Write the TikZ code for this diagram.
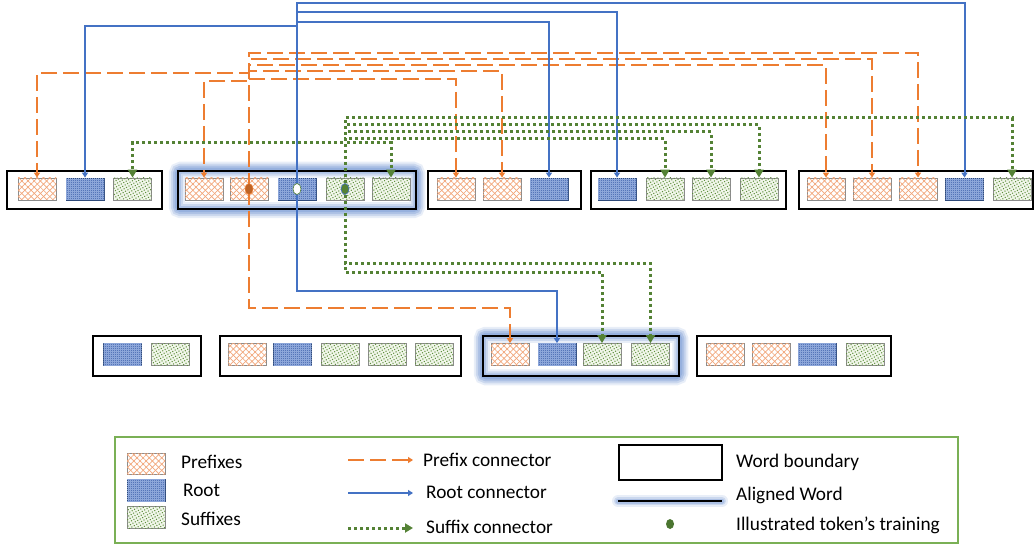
\documentclass[tikz,border=0pt]{standalone}
\usepackage{fontspec}
\setmainfont{Carlito}
\usetikzlibrary{arrows.meta,patterns.meta,backgrounds}

\definecolor{arancio}{HTML}{ED7D31}
\definecolor{blu}{HTML}{4472C4}
\definecolor{verde}{HTML}{548235}
\definecolor{trama}{HTML}{F2A67A}
\definecolor{radice}{HTML}{5575B8}
\definecolor{tramablu}{HTML}{8CA6D9}
\definecolor{bordoradice}{HTML}{2F4A7A}
\definecolor{puntini}{HTML}{5E8F3C}
\definecolor{fondoverde}{HTML}{F1F6EA}
\definecolor{grigiotok}{HTML}{8C8C8C}
\definecolor{alone}{HTML}{7F9FD6}
\definecolor{cornice}{HTML}{7AB055}

\tikzset{
  tok/.style={minimum width=38pt, minimum height=22pt, inner sep=0pt, line width=0.8pt},
  pretok/.style={tok, draw=grigiotok, fill=white,
    postaction={pattern={Lines[angle=45,distance=4.4pt,line width=0.7pt]}, pattern color=trama},
    postaction={pattern={Lines[angle=-45,distance=4.4pt,line width=0.7pt]}, pattern color=trama}},
  roottok/.style={tok, draw=bordoradice, fill=radice,
    postaction={pattern={Hatch[distance=2pt,line width=0.3pt]}, pattern color=tramablu}},
  suftok/.style={tok, draw=grigiotok, fill=fondoverde,
    postaction={pattern={Dots[distance=2.8pt,radius=0.75pt,angle=30]}, pattern color=puntini}},
  wordbox/.style={draw=black, line width=2.5pt, inner sep=0pt, minimum height=38pt},
  prefline/.style={arancio, line width=2pt, dash pattern=on 16pt off 6pt, -{Triangle[width=6pt,length=5pt]}},
  rootline/.style={blu, line width=2pt, -{Triangle[width=6pt,length=5pt]}},
  sufline/.style={verde, line width=3pt, dash pattern=on 3pt off 3pt, -{Triangle[width=9pt,length=8pt]}},
  legtext/.style={anchor=west, inner sep=0pt, font=\fontsize{19.3}{22}\selectfont},
}

\begin{document}
\begin{tikzpicture}[x=1pt, y=-1pt]
  \useasboundingbox (0,0) rectangle (1035,545);

  % Confini delle parole (riga superiore e inferiore)
  \node[wordbox, minimum width=155pt] (s1) at (84.5,190) {};
  \node[wordbox, minimum width=238pt] (s2) at (297,190) {};
  \node[wordbox, minimum width=153pt] (s3) at (504.5,190) {};
  \node[wordbox, minimum width=195pt] (s4) at (688.5,190) {};
  \node[wordbox, minimum width=234pt] (s5) at (916,190) {};
  \node[wordbox, minimum width=108pt, minimum height=40pt] (t1) at (147,356) {};
  \node[wordbox, minimum width=241pt, minimum height=40pt] (t2) at (340.5,356) {};
  \node[wordbox, minimum width=196pt, minimum height=40pt] (t3) at (581,356) {};
  \node[wordbox, minimum width=194pt, minimum height=40pt] (t4) at (794,356) {};

  % Alone delle parole allineate
  \begin{scope}[on background layer]
    \foreach \w/\o in {16/0.18, 12/0.28, 8/0.38, 4/0.5}
      \foreach \b in {s2, t3}
        \draw[alone, line width=\w pt, opacity=\o, rounded corners=4pt] (\b.north west) rectangle (\b.south east);
  \end{scope}

  % Token della riga superiore
  \foreach \n/\st/\x in {s1-1/pretok/37, s1-2/roottok/85, s1-3/suftok/132.5,
      s2-1/pretok/204, s2-2/pretok/249, s2-3/roottok/297, s2-4/suftok/345, s2-5/suftok/391,
      s3-1/pretok/456, s3-2/pretok/502, s3-3/roottok/549,
      s4-1/roottok/617, s4-2/suftok/665, s4-3/suftok/711, s4-4/suftok/759,
      s5-1/pretok/826, s5-2/pretok/872, s5-3/pretok/918, s5-4/roottok/964.5, s5-5/suftok/1012}
    \node[\st] (\n) at (\x,189) {};

  % Token della riga inferiore
  \foreach \n/\st/\x in {t1-1/roottok/122.5, t1-2/suftok/170.5,
      t2-1/pretok/247, t2-2/roottok/292.5, t2-3/suftok/340, t2-4/suftok/387.5, t2-5/suftok/434,
      t3-1/pretok/510, t3-2/roottok/557, t3-3/suftok/602, t3-4/suftok/650.5,
      t4-1/pretok/725, t4-2/pretok/771, t4-3/roottok/817, t4-4/suftok/865}
    \node[\st] (\n) at (\x,354.5) {};

  % Connettori dei prefissi
  \foreach \t/\lev in {s5-3/53, s5-2/59, s5-1/65, s3-2/71, s1-1/73, s3-1/79, s2-1/81}
    \draw[prefline] (s2-2.center) -- (s2-2 |- 0,\lev) -| (\t.north);
  \draw[prefline] (s2-2.center) -- (s2-2 |- 0,308) -| (t3-1.north);

  % Connettori della radice
  \foreach \t/\lev in {s5-4/3, s4-1/12, s3-3/22, s1-2/26}
    \draw[rootline] (s2-3.center) -- (s2-3 |- 0,\lev) -| (\t.north);
  \draw[rootline] (s2-3.center) -- (s2-3 |- 0,291) -| (t3-2.north);

  % Connettori dei suffissi
  \foreach \t/\lev in {s5-5/118, s4-4/125, s4-3/132, s4-2/139, s1-3/143, s2-5/143}
    \draw[sufline] (s2-4.center) -- (s2-4 |- 0,\lev) -| (\t.north);
  \foreach \t/\lev in {t3-4/263, t3-3/272}
    \draw[sufline] (s2-4.center) -- (s2-4 |- 0,\lev) -| (\t.north);

  % Token illustrati
  \filldraw[fill=arancio!80!black, draw=arancio, line width=0.6pt] (s2-2) ellipse [x radius=4pt, y radius=5.5pt];
  \filldraw[fill=white, draw=verde, line width=0.6pt] (s2-3) ellipse [x radius=4pt, y radius=5.5pt];
  \filldraw[fill=verde, draw=blu, line width=0.6pt] (s2-4) ellipse [x radius=4pt, y radius=5.5pt];

  % Legenda
  \draw[cornice, line width=2pt] (115,437) rectangle (958,543);
  \node[pretok, minimum height=21pt] (lgp) at (146,463.5) {};
  \node[roottok] (lgr) at (146,490) {};
  \node[suftok] (lgs) at (146,517) {};
  \node[legtext] (lgpt) at (181,462) {Prefixes};
  \node[legtext] (lgrt) at (183,490) {Root};
  \node[legtext] (lgst) at (181,519) {Suffixes};

  \coordinate (lpa) at (348,460); \coordinate (lpb) at (413,460);
  \coordinate (lra) at (348,493); \coordinate (lrb) at (413,493);
  \coordinate (lsa) at (348,528); \coordinate (lsb) at (413,528);
  \draw[prefline] (lpa) -- (lpb);
  \draw[rootline] (lra) -- (lrb);
  \draw[sufline] (lsa) -- (lsb);
  \node[legtext] (lpt) at (423,460) {Prefix connector};
  \node[legtext] (lrt) at (426,492) {Root connector};
  \node[legtext] (lst) at (426,527) {Suffix connector};

  \node[wordbox, minimum width=103pt, minimum height=35pt] (lgw) at (670.5,462.5) {};
  \coordinate (lwa) at (618,501); \coordinate (lwb) at (722,501);
  \foreach \w/\o in {12/0.18, 8/0.28, 5/0.4}
    \draw[alone, line width=\w pt, opacity=\o, line cap=round] (lwa) -- (lwb);
  \draw[black, line width=2.5pt] (lwa) -- (lwb);
  \fill[verde!90!black] (670,524) ellipse [x radius=4pt, y radius=5pt];
  \node[legtext] (lwt) at (736,462) {Word boundary};
  \node[legtext] (lat) at (736,495) {Aligned Word};
  \node[legtext] (lit) at (736,525) {Illustrated token’s training};
\end{tikzpicture}
\end{document}
